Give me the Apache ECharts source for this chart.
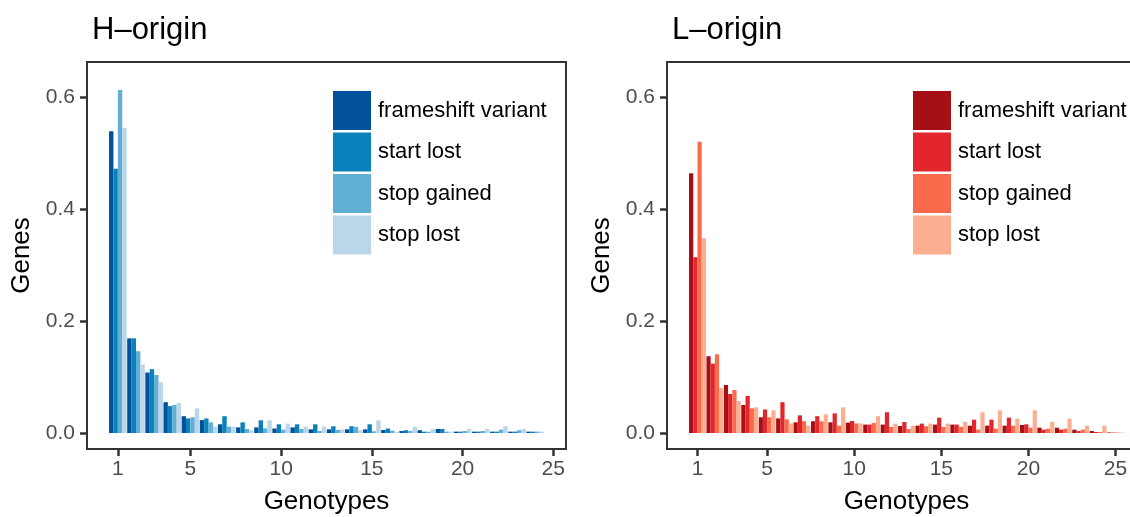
<!DOCTYPE html>
<html>
<head>
<meta charset="utf-8">
<script src="https://cdn.jsdelivr.net/npm/echarts@6/dist/echarts.min.js"></script>
<style>
  html, body { margin: 0; padding: 0; background: #fff; }
  #wrap { position: relative; width: 1130px; height: 517px; overflow: hidden; }
  #h { position: absolute; left: 0; top: 0; width: 580px; height: 517px; }
  #l { position: absolute; left: 580px; top: 0; width: 550px; height: 517px; }
</style>
</head>
<body>
<div id="wrap">
  <div id="h"></div>
  <div id="l"></div>
</div>
<script>
// legend / series names
const typeNames = ['frameshift variant', 'start lost', 'stop gained', 'stop lost'];
const xTicks = [1, 5, 10, 15, 20, 25];
const yTicks = [0, 0.2, 0.4, 0.6];

// H-origin, genotypes 1..24
const hGenotypes = [1,2,3,4,5,6,7,8,9,10,11,12,13,14,15,16,17,18,19,20,21,22,23,24];
const hFrameshift = [0.539,0.169,0.108,0.055,0.030,0.023,0.0155,0.010,0.010,0.008,0.010,0.0065,0.0065,0.0065,0.0065,0.0054,0.0036,0.005,0.0071,0.0024,0.0024,0.0024,0.0024,0.0024];
const hStartLost  = [0.472,0.169,0.114,0.048,0.026,0.026,0.030,0.019,0.0226,0.0155,0.0155,0.0155,0.012,0.012,0.0155,0.008,0.005,0.0024,0.0071,0.0024,0.0024,0.0024,0.0024,0.0024];
const hStopGained = [0.6125,0.146,0.1036,0.050,0.028,0.019,0.0113,0.0071,0.0083,0.006,0.0071,0.0036,0.0054,0.011,0.003,0.004,0.0036,0.0024,0.0024,0.0036,0.0036,0.006,0.0048,0.0024];
const hStopLost   = [0.545,0.122,0.091,0.0536,0.044,0.0113,0.0113,0.0048,0.0226,0.0167,0.0113,0.0113,0.0065,0.005,0.0226,0.002,0.011,0.0071,0.0024,0.0071,0.0071,0.0119,0.0071,0.0024];

// L-origin, genotypes 1..25
const lGenotypes = [1,2,3,4,5,6,7,8,9,10,11,12,13,14,15,16,17,18,19,20,21,22,23,24,25];
const lFrameshift = [0.4637,0.137,0.0857,0.050,0.028,0.026,0.019,0.021,0.019,0.0185,0.015,0.015,0.0125,0.013,0.015,0.015,0.013,0.0131,0.0131,0.0143,0.0095,0.0095,0.006,0.0036,0.001];
const lStartLost  = [0.3137,0.124,0.0696,0.066,0.042,0.055,0.0315,0.030,0.035,0.0214,0.015,0.037,0.0196,0.0167,0.0274,0.015,0.0238,0.0238,0.0274,0.0155,0.006,0.006,0.0036,0.0018,0.0008];
const lStopGained = [0.520,0.1405,0.0768,0.044,0.028,0.0244,0.021,0.021,0.0131,0.017,0.018,0.0107,0.007,0.012,0.0107,0.011,0.006,0.0077,0.0131,0.0095,0.0077,0.0077,0.006,0.0018,0.0008];
const lStopLost   = [0.3476,0.080,0.057,0.0458,0.0405,0.017,0.013,0.0333,0.0458,0.017,0.030,0.0167,0.013,0.0167,0.0167,0.020,0.037,0.0405,0.0256,0.0405,0.020,0.0256,0.0131,0.0131,0.0008];

const blues = ['#02529b', '#0a81ba', '#62afd6', '#bad6e8'];
const reds  = ['#a50f15', '#e3262b', '#fb6a4a', '#fcae91'];

const FONT = '"Liberation Sans", Arial, Helvetica, sans-serif';
const GROUP_W = 0.97;

function makePanel(el, title, genotypes, seriesVals, colors, xMin, xMax) {
    const chart = echarts.init(document.getElementById(el));
    const n = seriesVals.length;
    const barW = GROUP_W / n;

    const series = seriesVals.map((vals, i) => ({
        name: typeNames[i],
        type: 'custom',
        itemStyle: {color: colors[i]},
        data: genotypes.map((g, k) => [g, vals[k]]),
        renderItem: function (params, api) {
            // dodge the 4 types side by side around the genotype value
            const x = api.value(0) - GROUP_W / 2 + i * barW;
            const p0 = api.coord([x, api.value(1)]);
            const p1 = api.coord([x + barW, 0]);
            return {
                type: 'rect',
                shape: {x: p0[0], y: p0[1], width: p1[0] - p0[0], height: p1[1] - p0[1]},
                style: {fill: colors[i]}
            };
        }
    }));

    chart.setOption({
        animation: false,
        textStyle: {fontFamily: FONT},
        title: {
            text: title, left: 87, top: 10,
            textStyle: {fontFamily: FONT, fontSize: 31, fontWeight: 'normal', color: '#000'}
        },
        legend: {
            orient: 'vertical', left: 333, top: 91,
            icon: 'rect', itemWidth: 38, itemHeight: 39, itemGap: 2.5,
            padding: 0,
            data: typeNames,
            textStyle: {fontFamily: FONT, fontSize: 22, color: '#000', padding: [0, 0, 0, 2]}
        },
        grid: {
            left: 87, top: 62, width: 479, height: 387,
            outerBoundsMode: 'none', containLabel: false,
            show: true, borderColor: '#333', borderWidth: 2, backgroundColor: 'transparent'
        },
        xAxis: {
            type: 'value', min: xMin, max: xMax,
            name: 'Genotypes', nameLocation: 'middle', nameGap: 40,
            nameTextStyle: {fontFamily: FONT, fontSize: 26, color: '#000'},
            splitLine: {show: false},
            axisLine: {show: false, onZero: false},
            axisTick: {show: true, inside: false, length: 7, lineStyle: {color: '#333333', width: 2.5}, customValues: xTicks},
            axisLabel: {fontFamily: FONT, fontSize: 21, color: '#4d4d4d', margin: 10, customValues: xTicks}
        },
        yAxis: {
            type: 'value', min: -0.0286, max: 0.6625,
            name: 'Genes', nameLocation: 'middle', nameGap: 52,
            nameTextStyle: {fontFamily: FONT, fontSize: 26, color: '#000'},
            splitLine: {show: false},
            axisLine: {show: false, onZero: false},
            axisTick: {show: true, inside: false, length: 7, lineStyle: {color: '#333333', width: 2.5}, customValues: yTicks},
            axisLabel: {
                fontFamily: FONT, fontSize: 21, color: '#4d4d4d', margin: 12, customValues: yTicks,
                formatter: v => v.toFixed(1)
            }
        },
        series: series
    });
    return chart;
}

makePanel('h', 'H\u2013origin', hGenotypes, [hFrameshift, hStartLost, hStopGained, hStopLost], blues, -0.7, 25.7);
makePanel('l', 'L\u2013origin', lGenotypes, [lFrameshift, lStartLost, lStopGained, lStopLost], reds, -0.75, 26.75);
</script>
</body>
</html>
